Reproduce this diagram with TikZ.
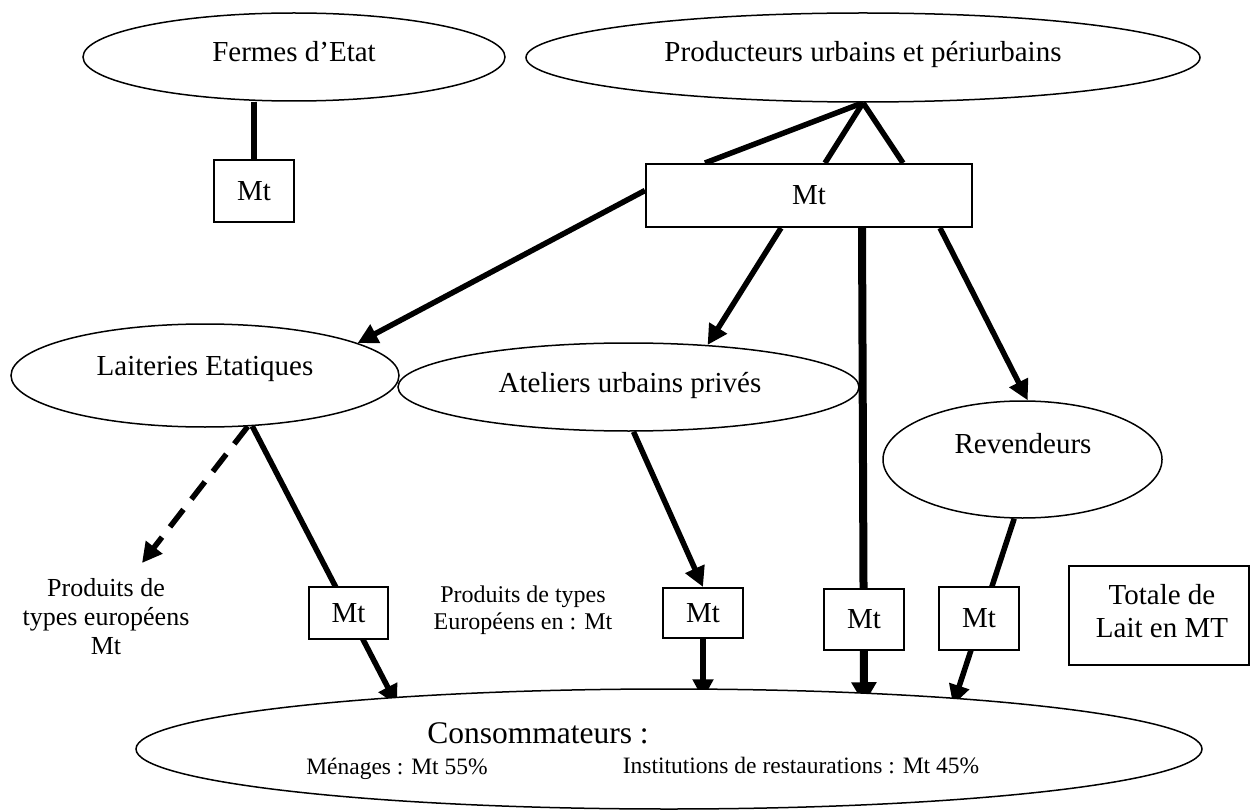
\documentclass[tikz,border=0pt]{standalone}
\usepackage{fontspec}
\setmainfont{Liberation Serif}
\usetikzlibrary{shapes.geometric,arrows.meta,calc}
\pgfdeclarelayer{edges}
\pgfsetlayers{edges,main}
\begin{document}
\begin{tikzpicture}[x=1pt,y=-1pt,
  oval/.style={ellipse,draw,line width=1.5pt,fill=white,inner sep=0pt},
  qty/.style={rectangle,draw,line width=2pt,fill=white,inner sep=0pt,
    font=\fontsize{29}{33}\selectfont},
  lbl/.style={anchor=base,inner sep=0pt,font=\fontsize{29}{33}\selectfont},
  small/.style={lbl,font=\fontsize{23.5}{27}\selectfont},
  link/.style={line width=5.5pt},
  flow/.style={line width=5.5pt,-{Triangle[length=20pt,width=20pt]}},
  mainflow/.style={line width=8pt,-{Triangle[length=22pt,width=24pt]}}]
\useasboundingbox (0,0) rectangle (1252,810);

% actors
\node[oval,minimum width=422,minimum height=88] (fermes) at (294,57) {};
\node[oval,minimum width=674,minimum height=89] (prod) at (863,57.5) {};
\node[oval,minimum width=388,minimum height=103] (lait) at (205,375.5) {};
\node[oval,minimum width=461,minimum height=88] (atel) at (628.5,387) {};
\node[oval,minimum width=279,minimum height=117] (rev) at (1022.5,459.5) {};
\node[oval,minimum width=1066,minimum height=120] (cons) at (669,749) {};

\node[lbl] (fermes-t) at (294,62) {Fermes d’Etat};
\node[lbl] (prod-t) at (863,62) {Producteurs urbains et périurbains};
\node[lbl] (lait-t) at (205,375) {Laiteries Etatiques};
\node[lbl] (atel-t) at (630,392) {Ateliers urbains privés};
\node[lbl] (rev-t) at (1023,453) {Revendeurs};
\node[lbl,font=\fontsize{31.5}{36}\selectfont] (cons-t) at (538,743) {Consommateurs :};
\node[small] (cons-a) at (397,774) {Ménages : Mt 55\%};
\node[small] (cons-b) at (801,773) {Institutions de restaurations : Mt 45\%};

% quantities
\node[qty,minimum width=80,minimum height=62] (fb) at (254,191) {Mt};
\node[qty,minimum width=326,minimum height=63] (mb) at (809,195.5) {Mt};
\node[qty,minimum width=79,minimum height=52] (b1) at (348.5,613) {Mt};
\node[qty,minimum width=80,minimum height=50] (b2) at (703,613) {Mt};
\node[qty,minimum width=80,minimum height=61] (b3) at (864,619.5) {Mt};
\node[qty,minimum width=80,minimum height=63] (b4) at (979,618.5) {Mt};
\node[qty,minimum width=180,minimum height=99] (tot) at (1159,615.5) {};
\node[lbl] (tot-a) at (1162,604) {Totale de};
\node[lbl] (tot-b) at (1162,637) {Lait en MT};

% side notes
\node[lbl,font=\fontsize{26}{29}\selectfont] (eu1-a) at (106,596) {Produits de};
\node[lbl,font=\fontsize{26}{29}\selectfont] (eu1-b) at (106,625) {types européens};
\node[lbl,font=\fontsize{26}{29}\selectfont] (eu1-c) at (106,654) {Mt};
\node[lbl,font=\fontsize{24}{27}\selectfont] (eu2-a) at (523,602) {Produits de types};
\node[lbl,font=\fontsize{24}{27}\selectfont] (eu2-b) at (523,629) {Européens en : Mt};

% arrow ends
\coordinate (euro) at (142,563);
\coordinate (t1) at (397,705);
\coordinate (t4) at (953,705);

\begin{pgfonlayer}{edges}
\draw[link] (fb.north |- fermes.south) -- (fb.north);
\draw[link] (prod.south) -- ([xshift=60pt]mb.north west);
\draw[link] (prod.south) -- ([xshift=180pt]mb.north west);
\draw[link] (prod.south) -- ([xshift=258pt]mb.north west);
\draw[flow] ([yshift=5pt]mb.west) -- (lait.12.5);
\draw[flow] ([xshift=136pt]mb.south west) -- (atel.28);
\draw[mainflow] ([xshift=217pt]mb.south west) -- ($(b3.south |- cons.north)+(0,16)$);
\draw[flow] ([xshift=295pt]mb.south west) -- (rev.85);
\draw[flow,dash pattern=on 22pt off 13pt] (lait.-50) -- (euro);
\draw[flow] (lait.-47) -- (t1);
\draw[flow] ([xshift=5pt]atel.south) -- (b2.north);
\draw[flow] (b2.south) -- ($(b2.south |- cons.north)+(0,11)$);
\draw[flow] (rev.-98) -- (t4);
\end{pgfonlayer}
\end{tikzpicture}
\end{document}
